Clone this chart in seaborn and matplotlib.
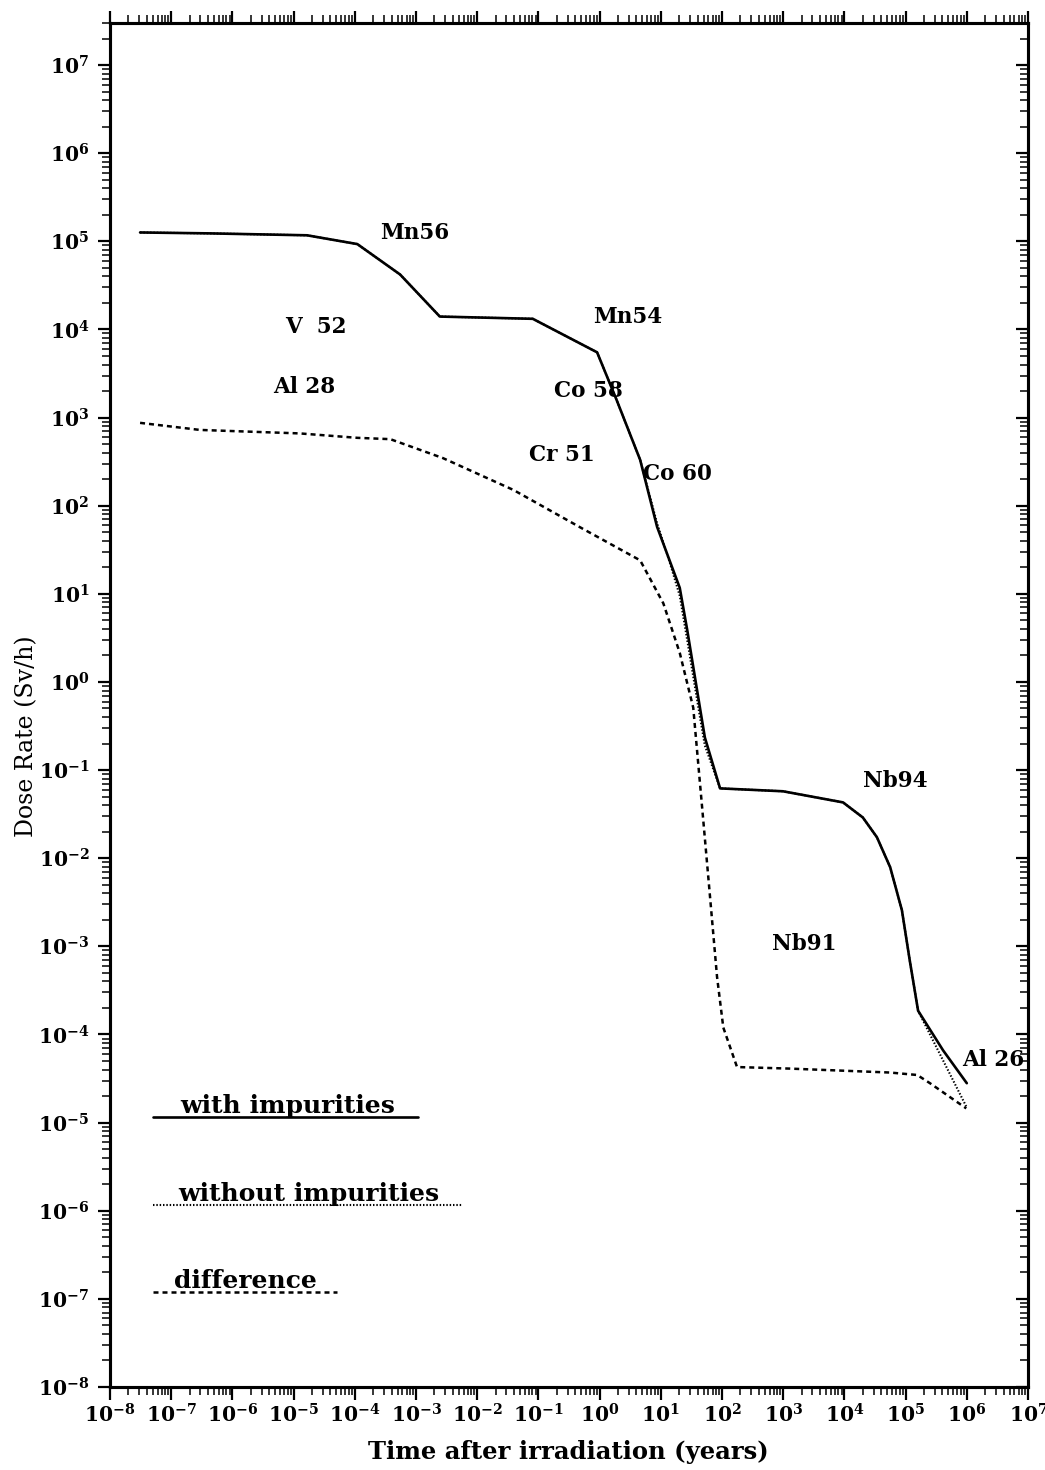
import numpy as np
import pandas as pd
import matplotlib
matplotlib.use('Agg')
import matplotlib.pyplot as plt
import seaborn as sns
from matplotlib.ticker import LogLocator, NullFormatter, FuncFormatter

# ---------------- data ----------------
with_x = [3.1e-8, 4.3e-7, 1.66e-5, 1.1e-4, 5.5e-4, 2.45e-3, 8.1e-2, 0.91, 1.9, 4.6,
          8.7, 20.4, 27, 43.6, 52.5, 93, 990, 9.5e3, 2.0e4, 3.4e4, 5.6e4, 8.7e4,
          1.17e5, 1.6e5, 4.1e5, 1.0e6]
with_y = [1.26e5, 1.23e5, 1.17e5, 9.3e4, 4.2e4, 1.4e4, 1.32e4, 5.5e3, 1.58e3, 331,
          57.5, 11.7, 3.9, 0.51, 0.234, 0.062, 0.0575, 0.043, 0.029, 0.0173, 7.9e-3,
          2.57e-3, 6.9e-4, 1.86e-4, 6.6e-5, 2.8e-5]

without_x = [3.1e-8, 4.3e-7, 1.66e-5, 1.1e-4, 5.5e-4, 2.45e-3, 8.1e-2, 0.91, 1.9, 4.6,
             8.7, 14.1, 20.4, 27, 43.6, 52.5, 93, 990, 9.5e3, 2.0e4, 3.4e4, 5.6e4,
             8.7e4, 1.17e5, 1.6e5, 1.0e6]
without_y = [1.26e5, 1.23e5, 1.17e5, 9.3e4, 4.2e4, 1.4e4, 1.32e4, 5.5e3, 1.58e3, 331,
             63, 22.4, 9.5, 3.0, 0.40, 0.19, 0.062, 0.0575, 0.043, 0.029, 0.0173,
             7.9e-3, 2.57e-3, 6.9e-4, 1.86e-4, 1.48e-5]

diff_x = [3.1e-8, 2.95e-7, 1.26e-5, 1.1e-4, 3.8e-4, 2.75e-3, 3.9e-2, 0.48, 4.6, 11,
          20.4, 33.9, 49, 63, 83, 105, 176, 1.29e3, 5.56e4, 1.55e5, 2.5e5, 9.8e5]
diff_y = [871, 724, 661, 589, 569, 347, 151, 56.9, 24, 7.8,
          2.14, 0.51, 0.0288, 4.0e-3, 4.5e-4, 1.2e-4, 4.27e-5, 4.1e-5, 3.7e-5, 3.47e-5,
          2.8e-5, 1.45e-5]

iso_labels = ["Mn56", "V  52", "Al 28", "Mn54", "Co 58", "Cr 51", "Co 60", "Nb94", "Nb91", "Al 26"]
iso_x = [9.5e-4, 2.3e-5, 1.5e-5, 2.9, 0.65, 0.245, 18.4, 6.8e4, 2.2e3, 2.7e6]
iso_y = [1.23e5, 1.07e4, 2.2e3, 1.4e4, 2.0e3, 372, 229, 0.076, 1.07e-3, 5.1e-5]

legend_labels = ["with impurities", "without impurities", "difference"]

x_lim = (1e-8, 1e7)
y_lim = (1e-8, 3e7)

# ---------------- styling ----------------
sns.set_style('ticks')
plt.rcParams['font.family'] = ['DejaVu Serif']
plt.rcParams['mathtext.fontset'] = 'dejavuserif'
for k in ('text.color', 'axes.labelcolor', 'xtick.color', 'ytick.color', 'axes.edgecolor'):
    plt.rcParams[k] = 'black'

fig = plt.figure(figsize=(10.45, 14.7), dpi=100)
ax = fig.add_axes([110/1045, 83/1470, 918/1045, 1364/1470])
ax.set_xscale('log')
ax.set_yscale('log')

df_wo = pd.DataFrame({'t': without_x, 'd': without_y})
df_w = pd.DataFrame({'t': with_x, 'd': with_y})
df_d = pd.DataFrame({'t': diff_x, 'd': diff_y})

dot_style = (0, (0.7, 0.9))
dash_style = (0, (2.0, 1.6))

sns.lineplot(data=df_wo, x='t', y='d', ax=ax, color='black', lw=1.5,
             linestyle=dot_style, estimator=None, sort=False)
sns.lineplot(data=df_w, x='t', y='d', ax=ax, color='black', lw=1.9,
             estimator=None, sort=False)
sns.lineplot(data=df_d, x='t', y='d', ax=ax, color='black', lw=1.8,
             linestyle=dash_style, estimator=None, sort=False)

ax.set_xlim(*x_lim)
ax.set_ylim(*y_lim)

fmt = FuncFormatter(lambda v, p: r'$\mathbf{10^{%d}}$' % int(round(np.log10(v))))
for axis in (ax.xaxis, ax.yaxis):
    axis.set_major_locator(LogLocator(base=10, numticks=30))
    axis.set_minor_locator(LogLocator(base=10, subs=np.arange(2, 10), numticks=300))
    axis.set_minor_formatter(NullFormatter())
    axis.set_major_formatter(fmt)

ax.tick_params(axis='both', which='major', length=9, width=1.6, labelsize=14.5, colors='black')
ax.tick_params(axis='both', which='minor', length=6, width=1.1)
ax.tick_params(axis='x', which='both', direction='out', top=True, bottom=True, labeltop=False, pad=3)
ax.tick_params(axis='y', which='both', direction='out', left=True, right=False, pad=6)

ax2 = ax.twinx()
ax2.set_yscale('log')
ax2.set_ylim(*y_lim)
ax2.yaxis.set_major_locator(LogLocator(base=10, numticks=30))
ax2.yaxis.set_minor_locator(LogLocator(base=10, subs=np.arange(2, 10), numticks=300))
ax2.yaxis.set_minor_formatter(NullFormatter())
ax2.tick_params(axis='y', which='major', direction='in', length=9, width=1.6, labelright=False)
ax2.tick_params(axis='y', which='minor', direction='in', length=6, width=1.1)

for a in (ax, ax2):
    for s in a.spines.values():
        s.set_linewidth(2.2)
        s.set_color('black')
        s.set_visible(True)

ax.set_xlabel('Time after irradiation (years)', fontsize=17.5, fontweight='bold')
ax.set_ylabel('Dose Rate (Sv/h)', fontsize=17)
ax.xaxis.set_label_coords(0.499, -0.039)
ax.yaxis.set_label_coords(-0.078, 0.477)

for lab, xv, yv in zip(iso_labels, iso_x, iso_y):
    ax.text(xv, yv, lab, ha='center', va='center', fontsize=15.5, fontweight='bold')

# custom legend (text sitting on a line sample), positions in axes fraction
leg_rows = [(0.198, 0.0468, 0.3355, 0.1935, '-', 1.9),
            (0.1334, 0.0468, 0.3845, 0.217, dot_style, 1.5),
            (0.0696, 0.0468, 0.2473, 0.147, dash_style, 1.8)]
for lab, (yy, x0, x1, xc, ls, lw) in zip(legend_labels, leg_rows):
    ax.plot([x0, x1], [yy, yy], transform=ax.transAxes, color='black', lw=lw, linestyle=ls)
    ax.text(xc, yy + 0.003, lab, transform=ax.transAxes, ha='center', va='baseline',
            fontsize=18, fontweight='bold')

fig.savefig('out.png', dpi=100)
